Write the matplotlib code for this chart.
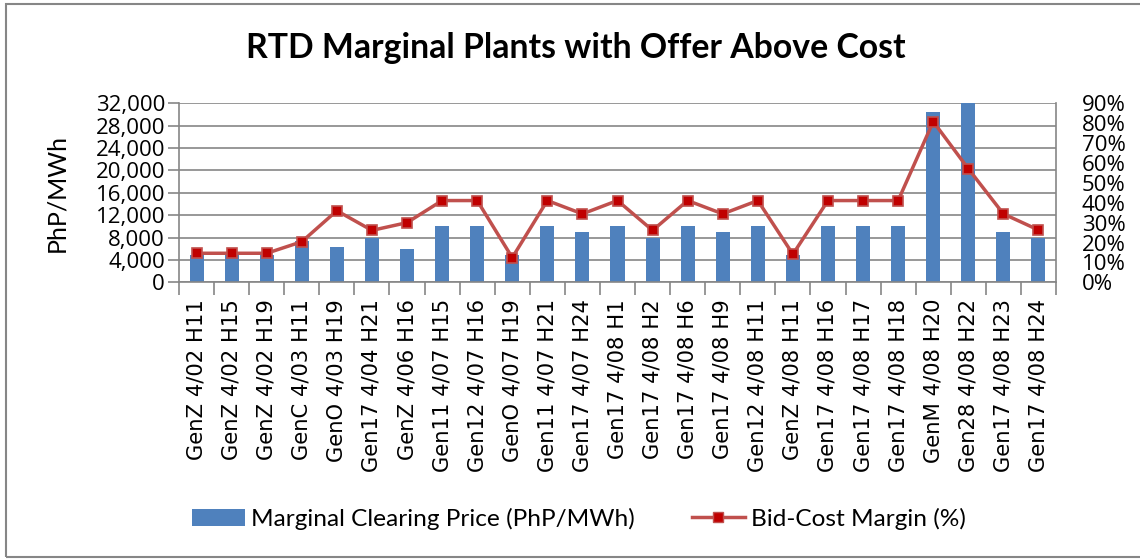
import numpy as np
import matplotlib
matplotlib.use('Agg')
import matplotlib.pyplot as plt
from matplotlib.patches import Rectangle, Patch
from matplotlib.lines import Line2D
from matplotlib.ticker import FuncFormatter, FixedLocator

#%% data

plants = ['GenZ 4/02 H11', 'GenZ 4/02 H15', 'GenZ 4/02 H19', 'GenC 4/03 H11',
          'GenO 4/03 H19', 'Gen17 4/04 H21', 'GenZ 4/06 H16', 'Gen11 4/07 H15',
          'Gen12 4/07 H16', 'GenO 4/07 H19', 'Gen11 4/07 H21', 'Gen17 4/07 H24',
          'Gen17 4/08 H1', 'Gen17 4/08 H2', 'Gen17 4/08 H6', 'Gen17 4/08 H9',
          'Gen12 4/08 H11', 'GenZ 4/08 H11', 'Gen17 4/08 H16', 'Gen17 4/08 H17',
          'Gen17 4/08 H18', 'GenM 4/08 H20', 'Gen28 4/08 H22', 'Gen17 4/08 H23',
          'Gen17 4/08 H24']

# marginal clearing price (PhP/MWh)
price = [4800, 4800, 4800, 7300, 6400, 8000, 5900, 10000,
         10000, 4800, 10000, 9000, 10000, 8000, 10000, 9000,
         10000, 4800, 10000, 10000, 10000, 30400, 32000, 9000,
         8000]

# bid-cost margin (%)
margin = [14.6, 14.6, 14.6, 20.4, 36.0, 26.1, 30.0, 41.1,
          41.1, 12.4, 41.1, 34.4, 41.1, 26.1, 41.1, 34.4,
          41.1, 14.1, 41.1, 41.1, 41.1, 80.8, 57.1, 34.4,
          26.3]

bar_color = '#4F81BD'
line_color = '#C0504D'
grey = '#868686'
font = 'Lato'
tick_font = 'Open Sans'

#%% figure

fig = plt.figure(figsize=(11.4, 5.59), dpi=100)
W, H = 1140, 559
ax = fig.add_axes([179/W, 1-282.3/H, (1056-179)/W, (282.3-103.3)/H])

x = np.arange(len(plants))
ax.bar(x, price, width=0.4, color=bar_color, zorder=2)
ax.set_xlim(-0.5, len(plants)-0.5)
ax.set_ylim(0, 32000)
ax.set_yticks(np.arange(0, 32001, 4000))
ax.yaxis.set_major_formatter(FuncFormatter(lambda v, p: f'{int(v):,}'))
ax.grid(axis='y', color=grey, lw=1.2, zorder=0)
ax.set_axisbelow(True)

ax.set_xticks(x)
ax.set_xticklabels(plants, rotation=90, fontsize=15.2, family='DejaVu Sans')
ax.tick_params(axis='x', which='major', length=0, pad=12)
ax.xaxis.set_minor_locator(FixedLocator(np.arange(-0.5, len(plants), 1)))
ax.tick_params(axis='x', which='minor', length=9, color=grey, width=1.2)
ax.tick_params(axis='y', length=8, color=grey, width=1.2, labelsize=16, pad=2)
for lab in ax.get_yticklabels():
    lab.set_family(tick_font)

for s in ['left', 'right', 'bottom']:
    ax.spines[s].set_color(grey)
    ax.spines[s].set_linewidth(1.2)
ax.spines['top'].set_visible(False)

ax2 = ax.twinx()
ax2.plot(x, margin, color=line_color, lw=2.5, marker='s', markersize=7,
         markerfacecolor='#C00000', markeredgecolor=line_color, markeredgewidth=1.2)
ax2.set_ylim(0, 90)
ax2.set_yticks(np.arange(0, 91, 10))
ax2.yaxis.set_major_formatter(FuncFormatter(lambda v, p: f'{int(v)}%'))
ax2.tick_params(axis='y', length=0, labelsize=16, pad=18.5)
for lab in ax2.get_yticklabels():
    lab.set_family(tick_font)
for s in ['left', 'right', 'bottom', 'top']:
    ax2.spines[s].set_visible(False)

fig.text(576/W, 1-48/H, 'RTD Marginal Plants with Offer Above Cost',
         ha='center', va='center', fontsize=24.3, fontweight='bold', family=font)
fig.text(57/W, 1-193/H, 'PhP/MWh', rotation=90, ha='center', va='center',
         fontsize=18, family=font)

handles = [Patch(facecolor=bar_color),
           Line2D([], [], color=line_color, lw=2.5, marker='s', markersize=7,
                  markerfacecolor='#C00000', markeredgecolor=line_color)]
fig.legend(handles, ['Marginal Clearing Price (PhP/MWh)', 'Bid-Cost Margin (%)'],
           loc='center', bbox_to_anchor=(579/W, 1-519/H), ncol=2, frameon=False,
           prop={'family': font, 'size': 17.6}, handlelength=2.15,
           handletextpad=0.25, columnspacing=2.35)

# chart border
fig.patches.append(Rectangle((6/W, 2/H), 1.2, 1-6/H, transform=fig.transFigure,
                             fill=False, edgecolor=grey, lw=1.5))

fig.savefig('out.png', dpi=100)
